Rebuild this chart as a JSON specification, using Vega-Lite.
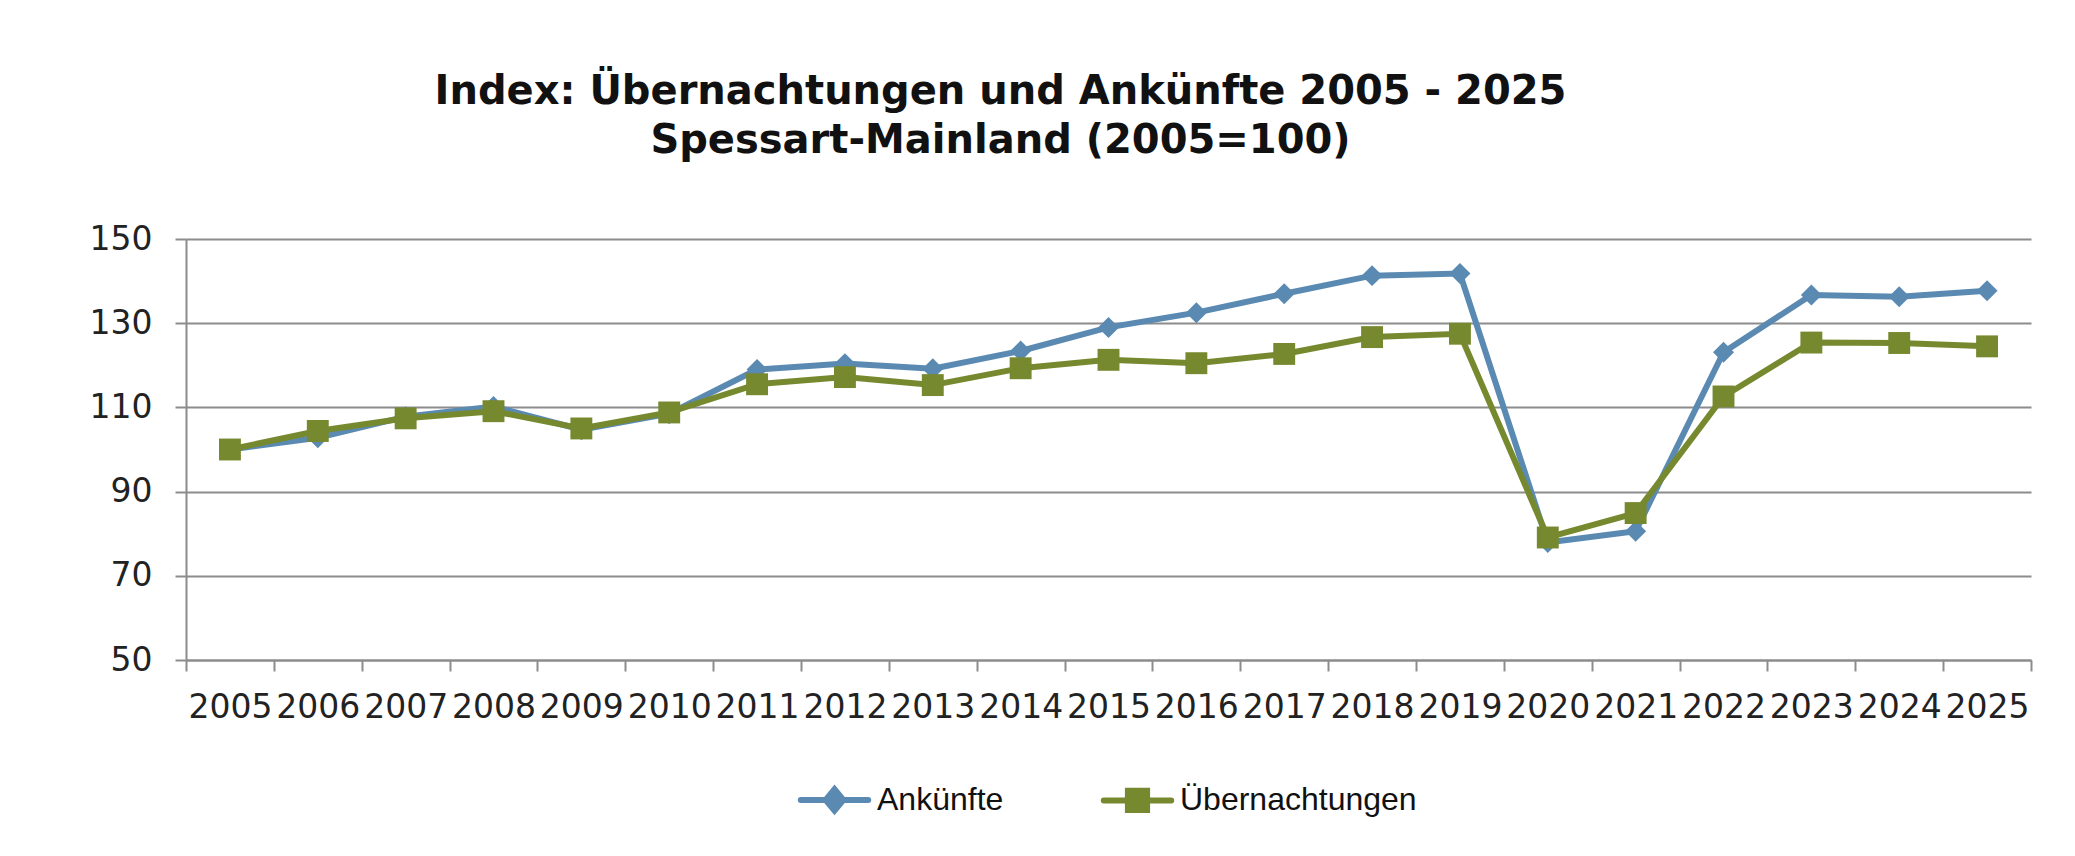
{
  "$schema": "https://vega.github.io/schema/vega-lite/v6.json",
  "width": 1845,
  "height": 421,
  "autosize": {"type": "none"},
  "padding": {"left": 186, "top": 239, "right": 44, "bottom": 196},
  "background": "white",
  "title": {
    "text": ["Index: Übernachtungen und Ankünfte 2005 - 2025", "Spessart-Mainland (2005=100)"],
    "font": "DejaVu Sans",
    "fontSize": 40,
    "fontWeight": "bold",
    "color": "#111111",
    "lineHeight": 49,
    "anchor": "middle",
    "frame": "group",
    "dx": -108,
    "offset": 62
  },
  "data": {
    "values": [
      {"year": "2005", "series": "Ankünfte", "value": 100},
      {"year": "2006", "series": "Ankünfte", "value": 102.8},
      {"year": "2007", "series": "Ankünfte", "value": 107.8},
      {"year": "2008", "series": "Ankünfte", "value": 110.2},
      {"year": "2009", "series": "Ankünfte", "value": 104.7},
      {"year": "2010", "series": "Ankünfte", "value": 108.5},
      {"year": "2011", "series": "Ankünfte", "value": 119.0},
      {"year": "2012", "series": "Ankünfte", "value": 120.4},
      {"year": "2013", "series": "Ankünfte", "value": 119.2},
      {"year": "2014", "series": "Ankünfte", "value": 123.4},
      {"year": "2015", "series": "Ankünfte", "value": 129.0},
      {"year": "2016", "series": "Ankünfte", "value": 132.5},
      {"year": "2017", "series": "Ankünfte", "value": 137.0},
      {"year": "2018", "series": "Ankünfte", "value": 141.3},
      {"year": "2019", "series": "Ankünfte", "value": 141.8},
      {"year": "2020", "series": "Ankünfte", "value": 77.9},
      {"year": "2021", "series": "Ankünfte", "value": 80.6},
      {"year": "2022", "series": "Ankünfte", "value": 123.1},
      {"year": "2023", "series": "Ankünfte", "value": 136.7},
      {"year": "2024", "series": "Ankünfte", "value": 136.3},
      {"year": "2025", "series": "Ankünfte", "value": 137.7},
      {"year": "2005", "series": "Übernachtungen", "value": 100},
      {"year": "2006", "series": "Übernachtungen", "value": 104.4},
      {"year": "2007", "series": "Übernachtungen", "value": 107.4},
      {"year": "2008", "series": "Übernachtungen", "value": 109.1},
      {"year": "2009", "series": "Übernachtungen", "value": 105.0},
      {"year": "2010", "series": "Übernachtungen", "value": 108.8},
      {"year": "2011", "series": "Übernachtungen", "value": 115.5},
      {"year": "2012", "series": "Übernachtungen", "value": 117.2},
      {"year": "2013", "series": "Übernachtungen", "value": 115.3},
      {"year": "2014", "series": "Übernachtungen", "value": 119.3},
      {"year": "2015", "series": "Übernachtungen", "value": 121.3},
      {"year": "2016", "series": "Übernachtungen", "value": 120.5},
      {"year": "2017", "series": "Übernachtungen", "value": 122.7},
      {"year": "2018", "series": "Übernachtungen", "value": 126.7},
      {"year": "2019", "series": "Übernachtungen", "value": 127.5},
      {"year": "2020", "series": "Übernachtungen", "value": 79.1},
      {"year": "2021", "series": "Übernachtungen", "value": 84.9},
      {"year": "2022", "series": "Übernachtungen", "value": 112.6},
      {"year": "2023", "series": "Übernachtungen", "value": 125.4},
      {"year": "2024", "series": "Übernachtungen", "value": 125.3},
      {"year": "2025", "series": "Übernachtungen", "value": 124.5}
    ]
  },
  "encoding": {
    "x": {
      "field": "year",
      "type": "ordinal",
      "bandPosition": 0.5,
      "scale": {"type": "band", "paddingInner": 0, "paddingOuter": 0},
      "axis": {
        "title": null,
        "labelAngle": 0,
        "labelFont": "DejaVu Sans",
        "labelFontSize": 33,
        "labelColor": "#222222",
        "labelPadding": 20,
        "tickBand": "extent",
        "tickSize": 11,
        "tickWidth": 2,
        "tickColor": "#8c8c8c",
        "domainColor": "#8c8c8c",
        "domainWidth": 2,
        "grid": false
      }
    },
    "y": {
      "field": "value",
      "type": "quantitative",
      "scale": {"domain": [50, 150], "nice": false, "zero": false},
      "axis": {
        "title": null,
        "values": [50, 70, 90, 110, 130, 150],
        "labelFont": "DejaVu Sans",
        "labelFontSize": 33,
        "labelColor": "#222222",
        "labelPadding": 23,
        "tickSize": 11,
        "tickWidth": 2,
        "tickColor": "#8c8c8c",
        "domainColor": "#8c8c8c",
        "domainWidth": 2,
        "grid": true,
        "gridColor": "#8c8c8c",
        "gridWidth": 2
      }
    },
    "color": {
      "field": "series",
      "type": "nominal",
      "scale": {"domain": ["Ankünfte", "Übernachtungen"], "range": ["#5a8ab2", "#76892f"]},
      "legend": {
        "title": null,
        "orient": "none",
        "legendX": 610,
        "legendY": 522,
        "direction": "horizontal",
        "padding": 0,
        "columnPadding": 87,
        "symbolType": "stroke",
        "symbolSize": 5041,
        "symbolStrokeWidth": 6,
        "labelFont": "Liberation Sans",
        "labelFontSize": 32,
        "labelColor": "#111111",
        "labelOffset": 4,
        "labelLimit": 0,
        "encode": {
          "symbols": {
            "update": {
              "shape": {"signal": "datum.value === 'Ankünfte' ? 'M-0.95,0L0.95,0M0,-0.3L0.25,0L0,0.3L-0.25,0Z' : 'M-0.95,0L0.95,0M-0.27,-0.27L0.27,-0.27L0.27,0.27L-0.27,0.27Z'"},
              "fill": {"signal": "datum.value === 'Ankünfte' ? '#5a8ab2' : '#76892f'"},
              "stroke": {"signal": "datum.value === 'Ankünfte' ? '#5a8ab2' : '#76892f'"},
              "strokeCap": {"value": "round"},
              "opacity": {"value": 1}
            }
          }
        }
      }
    }
  },
  "layer": [
    {
      "mark": {"type": "line", "strokeWidth": 6}
    },
    {
      "transform": [{"filter": "datum.series === 'Ankünfte'"}],
      "mark": {"type": "point", "shape": "diamond", "filled": true, "opacity": 1, "size": 440}
    },
    {
      "transform": [{"filter": "datum.series === 'Übernachtungen'"}],
      "mark": {"type": "point", "shape": "square", "filled": true, "opacity": 1, "size": 480}
    }
  ],
  "config": {
    "view": {"stroke": null}
  }
}
